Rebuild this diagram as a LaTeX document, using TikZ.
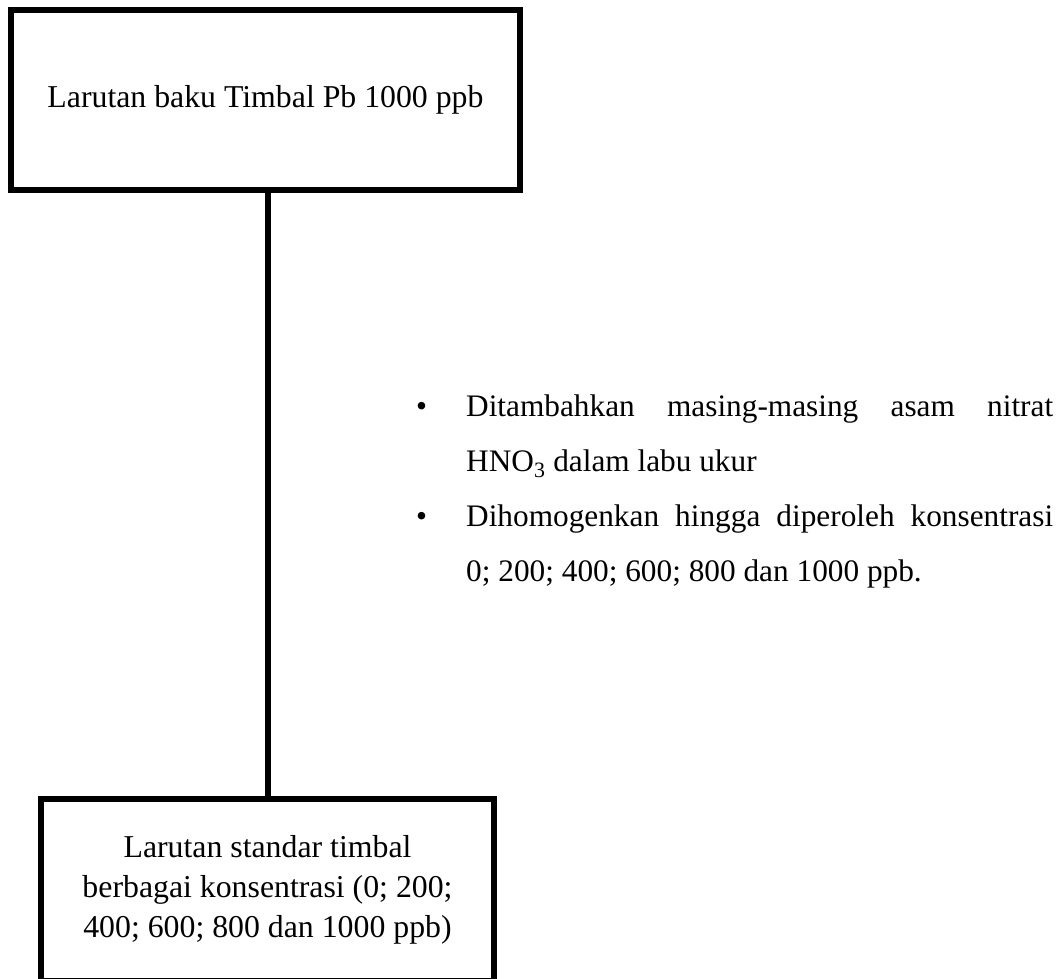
\documentclass[tikz,border=0pt]{standalone}
\usepackage{fontspec}
\setmainfont{Liberation Serif}
\usetikzlibrary{positioning}

\begin{document}
\begin{tikzpicture}[
    x=1pt, y=-1pt,
    box/.style={draw, line width=6pt, align=center,
        font=\fontsize{31.8}{40}\selectfont},
    link/.style={line width=6pt},
    notes/.style={anchor=north west, inner sep=0pt, text width=637pt,
        align=justify, font=\fontsize{31.3}{55}\selectfont},
]
    \useasboundingbox (0,0) rectangle (1064,978);
    \clip (0,0) rectangle (1064,978);

    \node[box, minimum width=509pt, minimum height=180pt] (stock) at (265.5,100)
        {Larutan baku Timbal Pb 1000 ppb};
    \node[box, minimum width=453pt, minimum height=182pt] (standard) at (267.5,890)
        {Larutan standar timbal\\berbagai konsentrasi (0; 200;\\400; 600; 800 dan 1000 ppb)};

    % langkah pengenceran
    \node[notes] (steps) at (416,395) {\parindent=0pt\tolerance=10000\hyphenpenalty=10000
        \hangindent=50pt\hangafter=1\makebox[50pt][l]{\textbullet}Ditambahkan masing-masing asam nitrat\linebreak
        HNO\textsubscript{3} dalam labu ukur\par
        \hangindent=50pt\hangafter=1\makebox[50pt][l]{\textbullet}Dihomogenkan hingga diperoleh konsentrasi\linebreak
        0; 200; 400; 600; 800 dan 1000 ppb.\par};

    \draw[link] (standard.north) -- (standard.north |- stock.south);
\end{tikzpicture}
\end{document}
